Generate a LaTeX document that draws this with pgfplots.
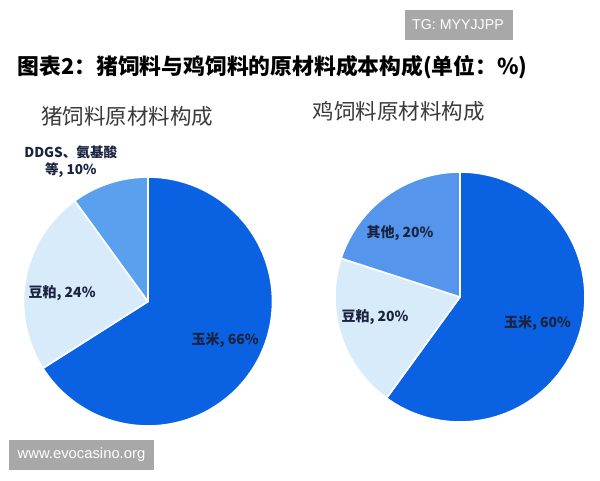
\documentclass[border=0pt]{standalone}
\usepackage{pgfplots}
\pgfplotsset{compat=1.18}
\usepackage{fontspec}
\setmainfont{Noto Sans CJK SC}
\newfontfamily\latinfont{Liberation Sans}
\definecolor{cMain}{HTML}{0A62E2}
\definecolor{cMid}{HTML}{5BA0EF}
\definecolor{cOther}{HTML}{5596EC}
\definecolor{cLight}{HTML}{D8EBFA}
\definecolor{cLab}{HTML}{1A2340}
\definecolor{cSub}{HTML}{3A3A3A}
\definecolor{cBox}{HTML}{A8A8A8}
% \slice{start percent}{value percent}{colour}
\newcommand{\slice}[3]{%
  \pgfmathsetmacro{\aS}{90-3.6*#1}%
  \pgfmathsetmacro{\aE}{90-3.6*(#1+#2)}%
  \addplot[fill=#3, draw=white, line width=1.6pt, line join=round, domain=\aS:\aE, samples=120, variable=\t]
    ({cos(\t)}, {sin(\t)}) -- (axis cs:0,0) -- cycle;%
}
\tikzset{lab/.style={font=\bfseries\fontsize{14}{17}\selectfont, text=cLab, inner sep=0pt}}
\begin{document}
\begin{tikzpicture}[x=1pt,y=1pt]
\path[use as bounding box] (0,0) rectangle (600,480);
\fill[white] (0,0) rectangle (600,480);
% watermark boxes
\fill[cBox] (405,440) rectangle (513,470);
\node[text=white, font=\latinfont\fontsize{14.2}{16}\selectfont] at (458,455) {TG: MYYJJPP};
\fill[cBox] (9,10) rectangle (154,40);
\node[text=white, font=\latinfont\fontsize{14.8}{16}\selectfont] at (81.5,25) {www.evocasino.org};
% titles
\node[anchor=west, font=\bfseries\fontsize{21.8}{24}\selectfont, text=black] at (14,413) {图表2：猪饲料与鸡饲料的原材料成本构成(单位：\%)};
\node[anchor=center, font=\fontsize{21.5}{24}\selectfont, text=cSub] at (127.5,364) {猪饲料原材料构成};
\node[anchor=center, font=\fontsize{21.5}{24}\selectfont, text=cSub] at (398.5,369) {鸡饲料原材料构成};
% pig feed pie
\begin{axis}[at={(148pt,178.5pt)}, anchor=center, scale only axis, width=249pt, height=249pt,
  xmin=-1, xmax=1, ymin=-1, ymax=1, hide axis, clip=false]
  \slice{0}{66}{cMain}
  \slice{66}{24}{cLight}
  \slice{90}{10}{cMid}
  \node[lab] at (axis cs:0.62,-0.31) {玉米, 66\%};
  \node[lab] at (axis cs:-0.69,0.07) {豆粕, 24\%};
  \node[lab, align=center, font=\bfseries\fontsize{13.6}{17}\selectfont] at (axis cs:-0.62,1.12) {DDGS、氨基酸\\等, 10\%};
\end{axis}
% chicken feed pie
\begin{axis}[at={(460pt,183pt)}, anchor=center, scale only axis, width=250pt, height=250pt,
  xmin=-1, xmax=1, ymin=-1, ymax=1, hide axis, clip=false]
  \slice{0}{60}{cMain}
  \slice{60}{20}{cLight}
  \slice{80}{20}{cOther}
  \node[lab] at (axis cs:0.62,-0.21) {玉米, 60\%};
  \node[lab] at (axis cs:-0.68,-0.16) {豆粕, 20\%};
  \node[lab] at (axis cs:-0.48,0.51) {其他, 20\%};
\end{axis}
\end{tikzpicture}
\end{document}
